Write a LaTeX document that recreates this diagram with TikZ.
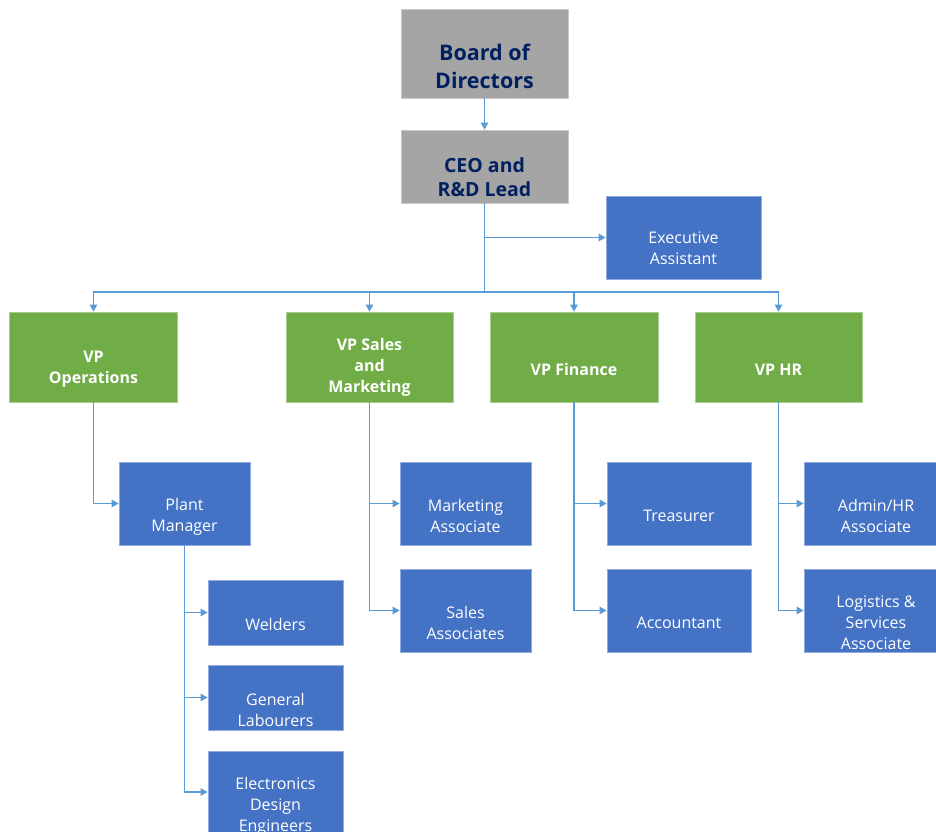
\documentclass[tikz,border=0pt]{standalone}
\usepackage{fontspec}
\setmainfont{Open Sans}
\usetikzlibrary{arrows.meta}
\definecolor{grayfill}{HTML}{A5A5A5}
\definecolor{navy}{HTML}{002060}
\definecolor{greenfill}{HTML}{70AD47}
\definecolor{bluefill}{HTML}{4472C4}
\definecolor{linec}{HTML}{5B9BD5}
\tikzset{
  box/.style={rectangle, inner sep=0pt, line width=0.8pt},
  gbox/.style={box, fill=grayfill, draw=grayfill!60!white},
  vbox/.style={box, fill=greenfill, draw=greenfill!60!white},
  bbox/.style={box, fill=bluefill, draw=bluefill!60!white},
  btxt/.style={yshift=-12pt, align=center, text=white, font=\fontsize{16}{21}\selectfont},
  vtxt/.style={yshift=-12.5pt, align=center, text=white, font=\fontsize{16}{21}\selectfont\bfseries},
  conn/.style={draw=linec, line width=1.4pt},
  arr/.style={conn, -{Triangle[length=7pt,width=7.5pt]}},
}
\begin{document}
\begin{tikzpicture}[x=1pt,y=-1pt]
\useasboundingbox (0,0) rectangle (936,831);
% top
\node[gbox, minimum width=167pt, minimum height=89pt, label={[yshift=-12.5pt, align=center, text=navy, font=\fontsize{21.5}{28}\selectfont\bfseries]center:Board of\\Directors}] (bod) at (484.5,53.5) {};
\node[gbox, minimum width=167pt, minimum height=73pt, label={[yshift=-10.5pt, align=center, text=navy, font=\fontsize{19.5}{24}\selectfont\bfseries]center:CEO and\\R\&D Lead}] (ceo) at (484.5,166.5) {};
\node[bbox, minimum width=155pt, minimum height=83pt, label={[btxt, yshift=1pt]center:Executive\\Assistant}] (ea) at (683.5,237.5) {};
% VPs
\node[vbox, minimum width=168pt, minimum height=90pt, label={[vtxt]center:VP\\Operations}] (vpo) at (93.5,357) {};
\node[vbox, minimum width=167pt, minimum height=90pt, label={[vtxt, yshift=2pt]center:VP Sales\\and\\Marketing}] (vps) at (369.5,357) {};
\node[vbox, minimum width=168pt, minimum height=90pt, label={[vtxt]center:VP Finance}] (vpf) at (574,357) {};
\node[vbox, minimum width=167pt, minimum height=90pt, label={[vtxt]center:VP HR}] (vph) at (778.5,357) {};
% level 3
\node[bbox, minimum width=131pt, minimum height=83pt, label={[btxt, yshift=-1.5pt]center:Plant\\Manager}] (pm) at (184.5,503.5) {};
\node[bbox, minimum width=135pt, minimum height=65pt, label={[btxt]center:Welders}] (wel) at (275.5,612.5) {};
\node[bbox, minimum width=135pt, minimum height=65pt, label={[btxt]center:General\\Labourers}] (gl) at (275.5,697.5) {};
\node[bbox, minimum width=135pt, minimum height=82pt, label={[btxt, yshift=-2pt]center:Electronics\\Design\\Engineers}] (ede) at (275.5,792) {};
\node[bbox, minimum width=131pt, minimum height=83pt, label={[btxt]center:Marketing\\Associate}] (ma) at (465.5,503.5) {};
\node[bbox, minimum width=131pt, minimum height=83pt, label={[btxt]center:Sales\\Associates}] (sa) at (465.5,610.5) {};
\node[bbox, minimum width=144pt, minimum height=83pt, label={[btxt]center:Treasurer}] (tr) at (679,503.5) {};
\node[bbox, minimum width=144pt, minimum height=83pt, label={[btxt]center:Accountant}] (acc) at (679,610.5) {};
\node[bbox, minimum width=144pt, minimum height=83pt, label={[btxt]center:Admin/HR\\Associate}] (ahr) at (876,503.5) {};
\node[bbox, minimum width=144pt, minimum height=83pt, label={[btxt]center:Logistics \&\\Services\\Associate}] (lsa) at (876,610.5) {};
% connectors
\coordinate (bus) at (484.5,292);
\draw[arr] (bod.south) -- (ceo.north);
\draw[conn] (ceo.south) -- (bus);
\draw[arr] (ceo.south |- ea.west) -- (ea.west);
\draw[arr] (bus) -| (vpo.north);
\draw[arr] (bus) -| (vps.north);
\draw[arr] (bus) -| (vpf.north);
\draw[arr] (bus) -| (vph.north);
\draw[arr] (vpo.south) |- (pm.west);
\draw[arr] (pm.south) |- (wel.west);
\draw[arr] (pm.south) |- (gl.west);
\draw[arr] (pm.south) |- (ede.west);
\draw[arr] (vps.south) |- (ma.west);
\draw[arr] (vps.south) |- (sa.west);
\draw[arr] (vpf.south) |- (tr.west);
\draw[arr] (vpf.south) |- (acc.west);
\draw[arr] (vph.south) |- (ahr.west);
\draw[arr] (vph.south) |- (lsa.west);
\end{tikzpicture}
\end{document}
